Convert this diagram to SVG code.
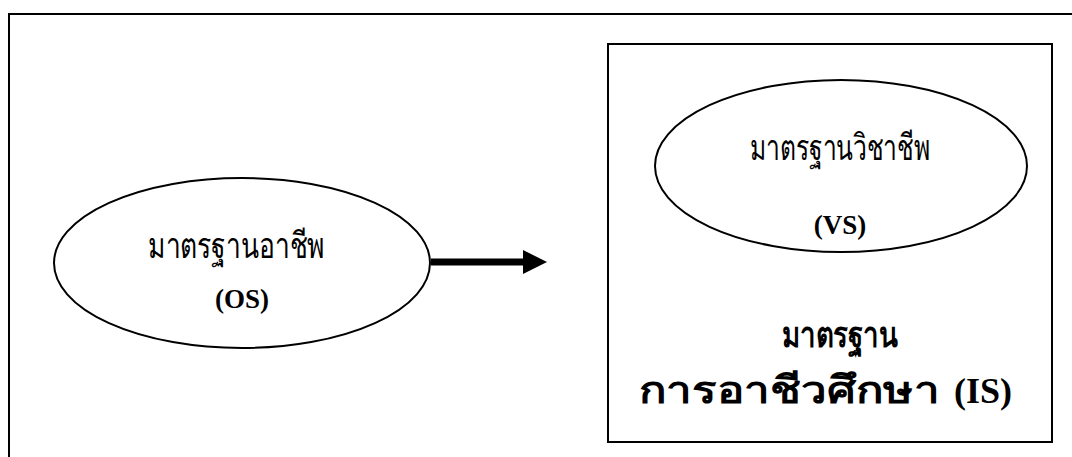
<svg xmlns="http://www.w3.org/2000/svg" width="1072" height="457" viewBox="0 0 1072 457">
<defs>
<style>
.line{fill:none;stroke:#000;stroke-width:2}
.ell{fill:#fff;stroke:#000;stroke-width:2}
.t{font-family:"Liberation Serif","DejaVu Serif",serif;font-size:27px;fill:#000}
.th{font-size:36px}
.hd{font-size:36px}
.b{font-weight:bold}
</style>
<marker id="ah" markerWidth="24" markerHeight="24" refX="0" refY="12" orient="auto" markerUnits="userSpaceOnUse">
<path d="M0,0 L24,12 L0,24 Z" fill="#000"/>
</marker>
</defs>
<rect width="1072" height="457" fill="#fff"/>
<g id="frame">
<path class="line" d="M9,457 V14 H1072"/>
</g>
<g id="is-box">
<rect class="line" x="608" y="44" width="444" height="398"/>
<text class="t hd b" x="782" y="347" textLength="116" lengthAdjust="spacingAndGlyphs">มาตรฐาน</text>
<text class="t b" style="font-size:38px" transform="translate(639,403) scale(1.2,1)" x="0" y="0">การอาชีวศึกษา</text>
<text class="t hd b" x="954" y="403">(IS)</text>
</g>
<g id="os">
<ellipse class="ell" cx="242" cy="263" rx="188" ry="85"/>
<text class="t th" x="148" y="258" textLength="177" lengthAdjust="spacingAndGlyphs">มาตรฐานอาชีพ</text>
<text class="t b" x="242" y="308" text-anchor="middle">(OS)</text>
</g>
<g id="vs">
<ellipse class="ell" cx="841" cy="166" rx="186" ry="86"/>
<text class="t th" x="750" y="160" textLength="180" lengthAdjust="spacingAndGlyphs">มาตรฐานวิชาชีพ</text>
<text class="t b" x="840" y="234" text-anchor="middle">(VS)</text>
</g>
<g id="connectors">
<line x1="431" y1="262" x2="523" y2="262" stroke="#000" stroke-width="7" marker-end="url(#ah)"/>
</g>
</svg>
